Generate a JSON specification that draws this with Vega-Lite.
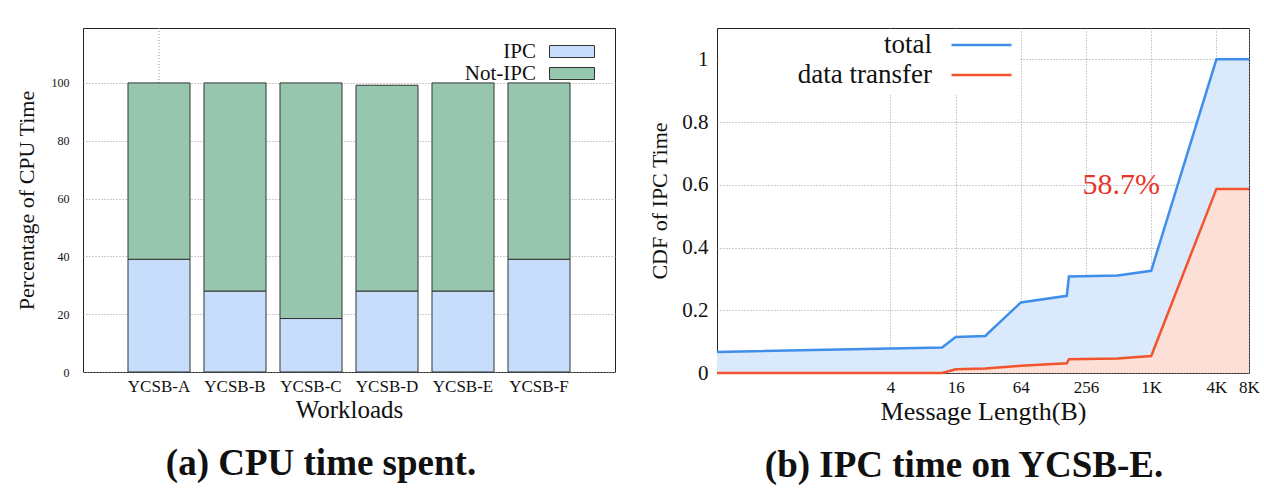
{
  "$schema": "https://vega.github.io/schema/vega-lite/v6.json",
  "background": "white",
  "padding": {"left": 14, "top": 27, "right": 8, "bottom": 0},
  "spacing": 32,
  "config": {
    "font": "Liberation Serif",
    "view": {"stroke": "#222", "strokeWidth": 1},
    "axis": {
      "domain": false,
      "ticks": false,
      "gridColor": "#9a9a9a",
      "gridDash": [1, 2],
      "gridWidth": 1,
      "labelColor": "#111",
      "titleColor": "#111",
      "labelFont": "Liberation Serif",
      "titleFont": "Liberation Serif",
      "titleFontWeight": "normal"
    },
    "legend": {"labelFont": "Liberation Serif", "labelColor": "#111", "title": null}
  },
  "hconcat": [
    {
      "width": 532,
      "height": 344,
      "title": {
        "text": "(a) CPU time spent.",
        "orient": "bottom",
        "frame": "bounds",
        "anchor": "middle",
        "font": "Liberation Serif",
        "fontSize": 37,
        "fontWeight": "bold",
        "color": "#111",
        "offset": 24,
        "baseline": "top",
        "dx": 6
      },
      "encoding": {
        "x": {
          "field": "workload",
          "type": "nominal",
          "sort": null,
          "scale": {
            "domain": ["YCSB-A", "YCSB-B", "YCSB-C", "YCSB-D", "YCSB-E", "YCSB-F"],
            "paddingInner": 0.184,
            "paddingOuter": 0.592
          },
          "axis": {
            "title": "Workloads",
            "labelAngle": 0,
            "labelFontSize": 17,
            "titleFontSize": 25,
            "labelPadding": 6,
            "titlePadding": 3,
            "grid": false
          }
        }
      },
      "layer": [
        {
          "data": {"values": [{"workload": "YCSB-A"}]},
          "mark": {"type": "rule", "stroke": "#9a9a9a", "strokeDash": [1, 2], "strokeWidth": 1}
        },
        {
          "data": {
            "values": [
              {"workload": "YCSB-A", "part": "IPC", "share": 39},
              {"workload": "YCSB-A", "part": "Not-IPC", "share": 61},
              {"workload": "YCSB-B", "part": "IPC", "share": 28},
              {"workload": "YCSB-B", "part": "Not-IPC", "share": 72},
              {"workload": "YCSB-C", "part": "IPC", "share": 18.5},
              {"workload": "YCSB-C", "part": "Not-IPC", "share": 81.5},
              {"workload": "YCSB-D", "part": "IPC", "share": 28},
              {"workload": "YCSB-D", "part": "Not-IPC", "share": 71.2},
              {"workload": "YCSB-E", "part": "IPC", "share": 28},
              {"workload": "YCSB-E", "part": "Not-IPC", "share": 72},
              {"workload": "YCSB-F", "part": "IPC", "share": 39},
              {"workload": "YCSB-F", "part": "Not-IPC", "share": 61}
            ]
          },
          "mark": {"type": "bar", "stroke": "#333", "strokeWidth": 1},
          "encoding": {
            "y": {
              "field": "share",
              "type": "quantitative",
              "stack": "zero",
              "scale": {"domain": [0, 119], "nice": false},
              "axis": {
                "title": "Percentage of CPU Time",
                "values": [0, 20, 40, 60, 80, 100],
                "labelFontSize": 12,
                "titleFontSize": 22,
                "labelPadding": 14,
                "titlePadding": 13,
                "grid": true
              }
            },
            "fill": {
              "field": "part",
              "type": "nominal",
              "scale": {"domain": ["IPC", "Not-IPC"], "range": ["#c6ddfb", "#96c7ae"]},
              "legend": {
                "orient": "none",
                "legendX": 0,
                "legendY": 13,
                "padding": 0,
                "rowPadding": 0,
                "symbolType": "M-3.75,-1H3.75V1H-3.75Z",
                "symbolSize": 144,
                "symbolOffset": 478.5,
                "symbolStrokeColor": "#333",
                "symbolStrokeWidth": 1,
                "symbolOpacity": 1,
                "labelAlign": "right",
                "labelOffset": -46.5,
                "labelFontSize": 21,
                "labelLimit": 400
              }
            },
            "order": {"field": "part", "sort": "ascending"}
          }
        }
      ]
    },
    {
      "width": 532,
      "height": 345,
      "title": {
        "text": "(b) IPC time on YCSB-E.",
        "orient": "bottom",
        "frame": "bounds",
        "anchor": "middle",
        "font": "Liberation Serif",
        "fontSize": 37,
        "fontWeight": "bold",
        "color": "#111",
        "offset": 24,
        "baseline": "top",
        "dx": 10
      },
      "data": {
        "values": [
          {"series": "total", "len": 0.1, "cdf": 0.067},
          {"series": "total", "len": 12, "cdf": 0.081},
          {"series": "total", "len": 16, "cdf": 0.115},
          {"series": "total", "len": 30, "cdf": 0.118},
          {"series": "total", "len": 64, "cdf": 0.225},
          {"series": "total", "len": 170, "cdf": 0.246},
          {"series": "total", "len": 178, "cdf": 0.308},
          {"series": "total", "len": 500, "cdf": 0.311},
          {"series": "total", "len": 1024, "cdf": 0.326},
          {"series": "total", "len": 4096, "cdf": 1.0},
          {"series": "total", "len": 8192, "cdf": 1.0},
          {"series": "data transfer", "len": 0.1, "cdf": 0.0},
          {"series": "data transfer", "len": 12, "cdf": 0.0},
          {"series": "data transfer", "len": 16, "cdf": 0.012},
          {"series": "data transfer", "len": 30, "cdf": 0.014},
          {"series": "data transfer", "len": 64, "cdf": 0.023},
          {"series": "data transfer", "len": 170, "cdf": 0.031},
          {"series": "data transfer", "len": 178, "cdf": 0.044},
          {"series": "data transfer", "len": 500, "cdf": 0.046},
          {"series": "data transfer", "len": 1024, "cdf": 0.054},
          {"series": "data transfer", "len": 4096, "cdf": 0.587},
          {"series": "data transfer", "len": 8192, "cdf": 0.587}
        ]
      },
      "encoding": {
        "x": {
          "field": "len",
          "type": "quantitative",
          "scale": {"type": "log", "base": 2, "domain": [0.1, 8192], "nice": false},
          "axis": {
            "title": "Message Length(B)",
            "values": [4, 16, 64, 256, 1024, 4096, 8192],
            "labelExpr": "datum.value >= 1024 ? (datum.value / 1024) + 'K' : '' + datum.value",
            "labelFontSize": 17,
            "titleFontSize": 26,
            "labelPadding": 6,
            "titlePadding": 3,
            "labelFlush": false,
            "labelOverlap": false,
            "grid": true
          }
        },
        "y": {
          "field": "cdf",
          "type": "quantitative",
          "scale": {"domain": [0, 1.1], "nice": false},
          "axis": {
            "title": "CDF of IPC Time",
            "values": [0, 0.2, 0.4, 0.6, 0.8, 1],
            "format": "~g",
            "labelFontSize": 21,
            "titleFontSize": 22,
            "labelPadding": 9,
            "titlePadding": 10,
            "grid": true
          }
        }
      },
      "layer": [
        {
          "transform": [{"filter": "datum.series === 'total'"}],
          "mark": {"type": "area", "fill": "#dbe9fc"}
        },
        {
          "transform": [{"filter": "datum.series === 'data transfer'"}],
          "mark": {"type": "area", "fill": "#fce0d8"}
        },
        {
          "mark": {"type": "line", "strokeWidth": 2.5},
          "encoding": {
            "stroke": {
              "field": "series",
              "type": "nominal",
              "scale": {"domain": ["total", "data transfer"], "range": ["#3f8fea", "#f2542d"]},
              "legend": {
                "orient": "none",
                "legendX": 636,
                "legendY": 1,
                "padding": 2.5,
                "rowPadding": 2,
                "fillColor": "white",
                "title": " ",
                "titleOrient": "right",
                "titleFontSize": 66,
                "titlePadding": 0,
                "titleFont": "Liberation Serif",
                "symbolType": "M-5,0H5",
                "symbolSize": 144,
                "symbolOffset": 246.5,
                "symbolStrokeWidth": 2.5,
                "labelAlign": "right",
                "labelOffset": -63,
                "labelFontSize": 27,
                "labelLimit": 400
              }
            }
          }
        },
        {
          "data": {"values": [{"len": 540, "cdf": 0.6, "label": "58.7%"}]},
          "mark": {"type": "text", "color": "#e8352b", "fontSize": 30, "font": "Liberation Serif"},
          "encoding": {"text": {"field": "label"}}
        }
      ]
    }
  ]
}
